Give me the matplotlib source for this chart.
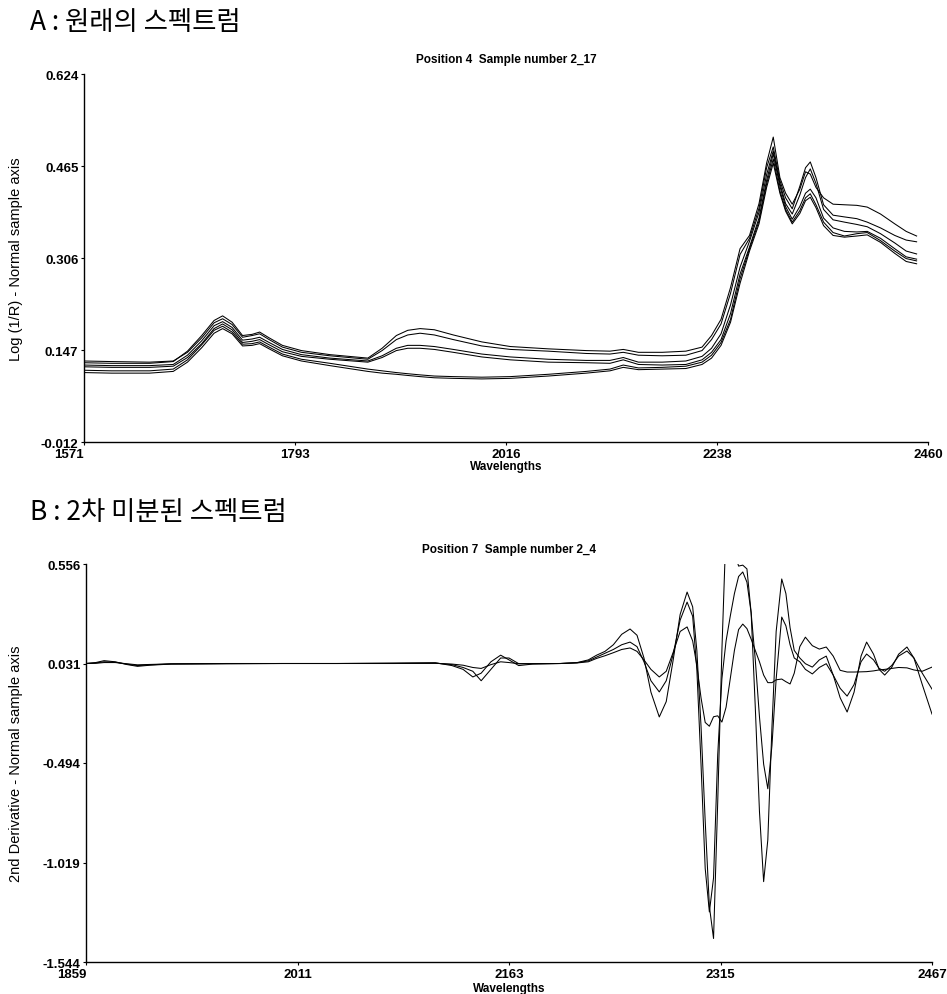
import matplotlib
matplotlib.use('Agg')
from matplotlib import pyplot as plt

# ---- panel A : raw spectra (Log 1/R) ----
wave_a = [1571, 1600, 1640, 1665, 1680, 1695, 1708, 1717, 1727, 1738,
          1748, 1756, 1766, 1780, 1800, 1830, 1870, 1885, 1900, 1912,
          1925, 1940, 1960, 1990, 2020, 2060, 2100, 2125, 2139, 2155,
          2180, 2205, 2222, 2232, 2242, 2252, 2262, 2272, 2282, 2290,
          2297, 2304, 2310, 2317, 2325, 2331, 2336, 2342, 2350, 2360,
          2372, 2385, 2396, 2410, 2425, 2437, 2448]

spec_a1 = [0.125, 0.124, 0.124, 0.127, 0.145, 0.172, 0.198, 0.206, 0.195, 0.172,
           0.174, 0.178, 0.168, 0.155, 0.146, 0.139, 0.133, 0.150, 0.172, 0.181,
           0.184, 0.182, 0.173, 0.161, 0.153, 0.149, 0.146, 0.145, 0.148, 0.143,
           0.143, 0.145, 0.152, 0.172, 0.200, 0.255, 0.322, 0.345, 0.400, 0.470,
           0.515, 0.445, 0.418, 0.399, 0.425, 0.455, 0.451, 0.428, 0.410, 0.399,
           0.398, 0.397, 0.394, 0.382, 0.365, 0.352, 0.344]
spec_a2 = [0.128, 0.127, 0.126, 0.128, 0.143, 0.168, 0.194, 0.201, 0.191, 0.169,
           0.172, 0.175, 0.165, 0.152, 0.143, 0.137, 0.131, 0.146, 0.165, 0.173,
           0.176, 0.173, 0.165, 0.154, 0.148, 0.145, 0.141, 0.140, 0.143, 0.138,
           0.137, 0.138, 0.146, 0.165, 0.192, 0.245, 0.312, 0.340, 0.392, 0.462,
           0.498, 0.440, 0.410, 0.391, 0.430, 0.462, 0.472, 0.445, 0.398, 0.380,
           0.377, 0.374, 0.368, 0.358, 0.345, 0.337, 0.334]
spec_a3 = [0.121, 0.120, 0.120, 0.122, 0.138, 0.163, 0.189, 0.196, 0.186, 0.164,
           0.166, 0.169, 0.160, 0.148, 0.139, 0.133, 0.128, 0.137, 0.150, 0.155,
           0.155, 0.153, 0.148, 0.140, 0.135, 0.131, 0.129, 0.129, 0.134, 0.126,
           0.126, 0.128, 0.136, 0.150, 0.175, 0.225, 0.290, 0.335, 0.385, 0.450,
           0.491, 0.435, 0.400, 0.382, 0.415, 0.445, 0.460, 0.435, 0.390, 0.372,
           0.368, 0.364, 0.360, 0.348, 0.332, 0.318, 0.313]
spec_a4 = [0.118, 0.117, 0.117, 0.119, 0.134, 0.158, 0.184, 0.192, 0.182, 0.160,
           0.162, 0.165, 0.156, 0.144, 0.136, 0.131, 0.126, 0.134, 0.146, 0.150,
           0.150, 0.148, 0.143, 0.135, 0.130, 0.126, 0.125, 0.124, 0.130, 0.122,
           0.121, 0.122, 0.130, 0.143, 0.165, 0.210, 0.278, 0.325, 0.375, 0.440,
           0.486, 0.430, 0.395, 0.373, 0.395, 0.418, 0.425, 0.410, 0.375, 0.358,
           0.352, 0.351, 0.352, 0.340, 0.322, 0.308, 0.304]
spec_a5 = [0.112, 0.111, 0.111, 0.114, 0.130, 0.156, 0.181, 0.188, 0.178, 0.157,
           0.158, 0.161, 0.152, 0.140, 0.131, 0.124, 0.114, 0.111, 0.108, 0.106,
           0.104, 0.102, 0.101, 0.100, 0.101, 0.105, 0.110, 0.114, 0.121, 0.116,
           0.117, 0.119, 0.126, 0.138, 0.160, 0.200, 0.270, 0.322, 0.370, 0.434,
           0.477, 0.422, 0.390, 0.368, 0.388, 0.410, 0.417, 0.398, 0.368, 0.350,
           0.344, 0.348, 0.350, 0.336, 0.318, 0.305, 0.301]
spec_a6 = [0.108, 0.107, 0.107, 0.110, 0.126, 0.151, 0.176, 0.184, 0.175, 0.154,
           0.155, 0.158, 0.149, 0.137, 0.128, 0.120, 0.110, 0.107, 0.105, 0.103,
           0.101, 0.099, 0.098, 0.097, 0.098, 0.102, 0.107, 0.111, 0.117, 0.113,
           0.114, 0.115, 0.122, 0.133, 0.155, 0.195, 0.262, 0.318, 0.365, 0.428,
           0.470, 0.418, 0.387, 0.365, 0.383, 0.405, 0.411, 0.393, 0.362, 0.345,
           0.342, 0.344, 0.346, 0.333, 0.314, 0.300, 0.296]

ticks_a_x = [1571, 1793, 2016, 2238, 2460]
ticks_a_y = [-0.012, 0.147, 0.306, 0.465, 0.624]

# ---- panel B : 2nd derivative ----
wave_b = [1859, 1866, 1872, 1880, 1888, 1896, 1905, 1920, 1960, 2000,
          2040, 2080, 2110, 2122, 2130, 2137, 2143, 2150, 2157, 2163,
          2170, 2180, 2200, 2212, 2220, 2226, 2232, 2238, 2244, 2250,
          2255, 2260, 2265, 2271, 2276, 2281, 2286, 2291, 2295, 2298,
          2301, 2304, 2307, 2310, 2313, 2316, 2319, 2322, 2325, 2328,
          2331, 2334, 2337, 2340, 2343, 2346, 2349, 2352, 2355, 2359,
          2362, 2365, 2368, 2372, 2376, 2381, 2386, 2391, 2396, 2401,
          2406, 2411, 2416, 2420, 2425, 2429, 2433, 2438, 2443, 2449,
          2454, 2460, 2467]

deriv_b1 = [0.031, 0.036, 0.046, 0.040, 0.026, 0.016, 0.022, 0.028, 0.030, 0.031,
            0.031, 0.033, 0.035, 0.020, 0.000, -0.040, -0.020, 0.040, 0.075, 0.050,
            0.020, 0.028, 0.031, 0.036, 0.050, 0.075, 0.095, 0.130, 0.185, 0.213,
            0.180, 0.060, -0.120, -0.251, -0.170, 0.050, 0.290, 0.408, 0.330, 0.100,
            -0.300, -0.800, -1.250, -1.420, -0.700, 0.100, 0.750, 0.850, 0.620, 0.545,
            0.550, 0.530, 0.300, -0.200, -0.750, -1.120, -0.900, -0.300, 0.200, 0.477,
            0.400, 0.220, 0.100, 0.060, 0.030, 0.012, 0.050, 0.070, -0.030, -0.150,
            -0.225, -0.120, 0.070, 0.144, 0.080, 0.000, -0.030, 0.010, 0.080, 0.118,
            0.060, -0.080, -0.236]
deriv_b2 = [0.031, 0.034, 0.040, 0.038, 0.028, 0.020, 0.024, 0.029, 0.031, 0.031,
            0.031, 0.032, 0.033, 0.025, 0.010, -0.010, -0.060, 0.000, 0.060, 0.060,
            0.030, 0.030, 0.031, 0.035, 0.045, 0.065, 0.085, 0.105, 0.130, 0.144,
            0.120, 0.040, -0.060, -0.119, -0.060, 0.080, 0.260, 0.355, 0.280, 0.000,
            -0.500, -1.050, -1.280, -1.100, -0.450, -0.050, 0.150, 0.280, 0.400, 0.490,
            0.514, 0.460, 0.300, 0.050, -0.250, -0.500, -0.630, -0.400, -0.050, 0.276,
            0.230, 0.130, 0.060, 0.040, 0.000, -0.024, 0.010, 0.030, -0.030, -0.100,
            -0.141, -0.080, 0.040, 0.081, 0.050, 0.005, -0.010, 0.020, 0.070, 0.097,
            0.060, -0.020, -0.104]
deriv_b3 = [0.031, 0.032, 0.036, 0.036, 0.030, 0.024, 0.026, 0.029, 0.030, 0.031,
            0.031, 0.031, 0.032, 0.028, 0.022, 0.010, 0.005, 0.025, 0.040, 0.036,
            0.030, 0.030, 0.031, 0.034, 0.040, 0.058, 0.072, 0.088, 0.105, 0.113,
            0.095, 0.050, 0.000, -0.040, -0.010, 0.090, 0.200, 0.224, 0.150, 0.020,
            -0.150, -0.280, -0.300, -0.250, -0.245, -0.278, -0.200, -0.050, 0.100, 0.210,
            0.239, 0.215, 0.160, 0.100, 0.040, -0.030, -0.070, -0.070, -0.055, -0.051,
            -0.065, -0.077, -0.020, 0.120, 0.170, 0.125, 0.107, 0.118, 0.070, -0.005,
            -0.014, -0.014, -0.013, -0.012, -0.008, -0.003, 0.000, 0.005, 0.010, 0.008,
            -0.003, -0.010, 0.012]

ticks_b_x = [1859, 2011, 2163, 2315, 2467]
ticks_b_y = [-1.544, -1.019, -0.494, 0.031, 0.556]

tick_font = {'family': ['Liberation Sans Narrow', 'Liberation Sans'], 'weight': 'bold', 'size': 9.5}
title_font = {'family': ['Liberation Sans Narrow', 'Liberation Sans'], 'weight': 'bold', 'size': 8.5}
label_font = {'family': ['Liberation Sans'], 'size': 10.5}
kr_font = ['Noto Sans CJK KR', 'DejaVu Sans']


def style_axes(ax, xt, yt, title, ylabel, ylab_x):
    ax.set_xlim(xt[0], xt[-1])
    ax.set_ylim(yt[0], yt[-1])
    for s in ['top', 'right']:
        ax.spines[s].set_visible(False)
    for s in ['left', 'bottom']:
        ax.spines[s].set_linewidth(1.0)
    ax.set_xticks(xt)
    ax.set_yticks(yt)
    ax.set_xticklabels([str(v) for v in xt], fontdict=tick_font)
    ax.set_yticklabels([f'{v:.3f}' for v in yt], fontdict=tick_font)
    ax.get_xticklabels()[0].set_ha('right')
    ax.tick_params(length=2, width=0.8, pad=2)
    ax.set_title(title, fontdict=title_font, pad=9)
    ax.set_ylabel(ylabel, fontdict=label_font)
    ax.yaxis.set_label_coords(ylab_x, 0.5)
    ax.text(0.5, -0.05, 'Wavelengths', transform=ax.transAxes,
            ha='center', va='top', fontdict=title_font)


fig = plt.figure(figsize=(9.47, 9.95), dpi=100)

axA = fig.add_axes([84 / 947, 1 - 443 / 995, 844 / 947, 368 / 995])
for spec in [spec_a1, spec_a2, spec_a3, spec_a4, spec_a5, spec_a6]:
    axA.plot(wave_a, spec, color='black', lw=0.75)
style_axes(axA, ticks_a_x, ticks_a_y, 'Position 4  Sample number 2_17',
           'Log (1/R) - Normal sample axis', -0.072)

axB = fig.add_axes([86 / 947, 1 - 963 / 995, 846 / 947, 398 / 995])
for d in [deriv_b1, deriv_b2, deriv_b3]:
    axB.plot(wave_b, d, color='black', lw=0.75)
style_axes(axB, ticks_b_x, ticks_b_y, 'Position 7  Sample number 2_4',
           '2nd Derivative - Normal sample axis', -0.074)

fig.text(30 / 947, 1 - 22 / 995, 'A : 원래의 스펙트럼', family=kr_font, size=19,
         ha='left', va='center')
fig.text(30 / 947, 1 - 513 / 995, 'B : 2차 미분된 스펙트럼', family=kr_font, size=19,
         ha='left', va='center')

fig.savefig('out.png', dpi=100)
